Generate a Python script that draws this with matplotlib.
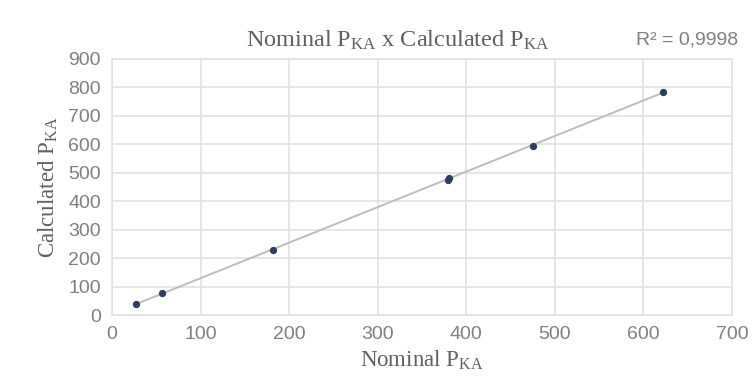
import numpy as np
import matplotlib
matplotlib.use("Agg")
import matplotlib.pyplot as plt

# values
nominal = [27, 56, 182, 379, 381, 475, 622]
calculated = [39, 77, 229, 476, 481, 595, 785]
x_ticks = [0, 100, 200, 300, 400, 500, 600, 700]
y_ticks = [0, 100, 200, 300, 400, 500, 600, 700, 800, 900]
r2_text = "R² = 0,9998"

plt.rcParams['mathtext.fontset'] = 'custom'
plt.rcParams['mathtext.rm'] = 'Liberation Serif'
plt.rcParams['mathtext.it'] = 'Liberation Serif'

fig = plt.figure(figsize=(7.53, 3.83), dpi=100)
ax = fig.add_axes([0.1487, 0.1775, 0.8233, 0.6685])

grid_col = "#e2e2e2"
text_col = "#808080"

# linear trendline through the points
coef = np.polyfit(nominal, calculated, 1)
xs = np.array([min(nominal), max(nominal)])
ax.plot(xs, np.polyval(coef, xs), color="#bdbdbd", lw=1.4, zorder=2)
ax.scatter(nominal, calculated, s=18, color="#2f3e5c", zorder=3)

ax.set_xlim(0, 700)
ax.set_ylim(0, 900)
ax.set_xticks(x_ticks)
ax.set_yticks(y_ticks)
ax.grid(True, color=grid_col, lw=1.2)
ax.set_axisbelow(True)
for s in ax.spines.values():
    s.set_color(grid_col)
    s.set_linewidth(1.2)
ax.tick_params(length=0, labelsize=14, labelcolor=text_col, pad=8)
for lbl in ax.get_xticklabels() + ax.get_yticklabels():
    lbl.set_family("Liberation Sans")

fig.text(0.528, 0.895, r"Nominal P$_{\mathrm{KA}}$ x Calculated P$_{\mathrm{KA}}$",
         ha="center", va="center", fontsize=17.5, color="#606060",
         family="Liberation Serif")
fig.text(0.912, 0.895, r2_text, ha="center", va="center", fontsize=14,
         color=text_col, family="Liberation Sans")
ax.set_xlabel(r"Nominal P$_{\mathrm{KA}}$", fontsize=16.5, color="#606060",
              family="Liberation Serif", labelpad=4)
ax.set_ylabel(r"Calculated P$_{\mathrm{KA}}$", fontsize=16.5, color="#606060",
              family="Liberation Serif", labelpad=6)

fig.savefig("out.png", dpi=100)
